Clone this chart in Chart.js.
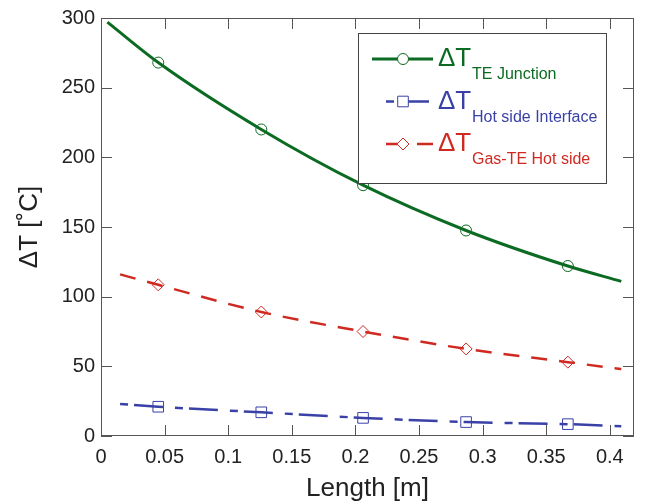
<!DOCTYPE html>
<html>
<head>
<meta charset="utf-8">
<script src="https://cdn.jsdelivr.net/npm/chart.js@4/dist/chart.umd.min.js"></script>
<style>
  html, body { margin: 0; padding: 0; background: #fff; }
  #wrap { width: 645px; height: 504px; }
</style>
</head>
<body>
<div id="wrap"><canvas id="chart" width="645" height="504"></canvas></div>
<script>
// values
const junctionLength = [0.005, 0.045, 0.126, 0.206, 0.287, 0.367, 0.409];
const junctionDT = [297, 268, 220, 180, 147.5, 122, 111];
const hotLength = [0.015, 0.045, 0.126, 0.206, 0.287, 0.367, 0.409];
const hotDT = [23, 21, 17, 13, 10, 8.5, 7];
const gasLength = [0.015, 0.045, 0.126, 0.206, 0.287, 0.367, 0.409];
const gasDT = [116, 108.5, 89, 75, 62.5, 53, 48];

const xTicks = [0, 0.05, 0.1, 0.15, 0.2, 0.25, 0.3, 0.35, 0.4];
const xTickLabels = ['0', '0.05', '0.1', '0.15', '0.2', '0.25', '0.3', '0.35', '0.4'];
const yTicks = [0, 50, 100, 150, 200, 250, 300];
const yTickLabels = ['0', '50', '100', '150', '200', '250', '300'];

const GREEN = '#0c6b22';
const BLUE = '#3a41a6';
const RED = '#cf2a22';
const FONT = 'Liberation Sans, Arial, sans-serif';
const BLUE_DASH = [8, 6, 29, 12];
const RED_DASH = [16, 12];

const pts = (xs, ys) => xs.map((x, i) => ({ x, y: ys[i] }));
const markerRadius = (r) => (ctx) => (ctx.dataIndex === 0 || ctx.dataIndex === 6 ? 0 : r);

const legendItems = [
    { color: GREEN, sub: 'TE Junction', dash: [], width: 3, style: 'circle', r: 5.5 },
    { color: BLUE, sub: 'Hot side Interface', dash: BLUE_DASH, width: 2.5, style: 'rect', r: 7.5 },
    { color: RED, sub: 'Gas-TE Hot side', dash: [22, 9, 16, 12], width: 2.5, style: 'rectRot', r: 6 },
];

const frame = {
    id: 'frame',
    afterDraw(chart) {
        const { ctx, chartArea: a, scales } = chart;
        ctx.save();
        ctx.strokeStyle = '#555';
        ctx.lineWidth = 1;
        ctx.strokeRect(a.left + 0.5, a.top + 0.5, a.right - a.left - 1, a.bottom - a.top - 1);
        ctx.beginPath();
        scales.x.ticks.forEach((t) => {
            const px = Math.round(scales.x.getPixelForValue(t.value)) + 0.5;
            ctx.moveTo(px, a.bottom); ctx.lineTo(px, a.bottom - 11);
            ctx.moveTo(px, a.top); ctx.lineTo(px, a.top + 11);
        });
        scales.y.ticks.forEach((t) => {
            const py = Math.round(scales.y.getPixelForValue(t.value)) + 0.5;
            ctx.moveTo(a.left, py); ctx.lineTo(a.left + 11, py);
            ctx.moveTo(a.right, py); ctx.lineTo(a.right - 11, py);
        });
        ctx.stroke();

        // legend box
        const bx = 358, by = 33, bw = 248, bh = 150;
        ctx.fillStyle = '#fff';
        ctx.fillRect(bx, by, bw, bh);
        ctx.strokeStyle = '#444';
        ctx.strokeRect(bx + 0.5, by + 0.5, bw, bh);
        legendItems.forEach((it, i) => {
            const y = 59 + i * 42.5;
            ctx.strokeStyle = it.color;
            ctx.lineWidth = it.width;
            ctx.setLineDash(it.dash);
            ctx.beginPath();
            ctx.moveTo(i === 0 ? 372 : 386, y);
            ctx.lineTo(433, y);
            ctx.stroke();
            ctx.setLineDash([]);
            ctx.lineWidth = 1;
            ctx.fillStyle = '#fff';
            Chart.helpers.drawPoint(ctx, { pointStyle: it.style, radius: it.r, rotation: 0, borderWidth: 1 }, 403, y);
            ctx.fillStyle = it.color;
            ctx.textBaseline = 'alphabetic';
            ctx.textAlign = 'left';
            ctx.font = '26px ' + FONT;
            ctx.fillText('\u0394T', 438, y + 7);
            ctx.font = '16px ' + FONT;
            ctx.fillText(it.sub, 472, y + 20);
        });
        ctx.restore();
    },
};

new Chart(document.getElementById('chart'), {
    type: 'line',
    data: {
        datasets: [
            {
                label: 'TE Junction',
                data: pts(junctionLength, junctionDT),
                borderColor: GREEN,
                borderWidth: 3,
                pointStyle: 'circle',
                pointRadius: markerRadius(5.5),
                pointBorderColor: GREEN,
                pointBorderWidth: 1,
                pointBackgroundColor: 'rgba(0,0,0,0)',
                cubicInterpolationMode: 'monotone',
            },
            {
                label: 'Hot side Interface',
                data: pts(hotLength, hotDT),
                borderColor: BLUE,
                borderWidth: 2.5,
                borderDash: BLUE_DASH,
                pointStyle: 'rect',
                pointRadius: markerRadius(7.5),
                pointBorderColor: BLUE,
                pointBorderWidth: 1,
                pointBackgroundColor: 'rgba(0,0,0,0)',
                cubicInterpolationMode: 'monotone',
            },
            {
                label: 'Gas-TE Hot side',
                data: pts(gasLength, gasDT),
                borderColor: RED,
                borderWidth: 2.5,
                borderDash: RED_DASH,
                pointStyle: 'rectRot',
                pointRadius: markerRadius(6),
                pointBorderColor: RED,
                pointBorderWidth: 1,
                pointBackgroundColor: 'rgba(0,0,0,0)',
                cubicInterpolationMode: 'monotone',
            },
        ],
    },
    options: {
        responsive: false,
        animation: false,
        layout: { padding: { top: 17, right: 11, left: 0, bottom: 0 } },
        plugins: { legend: { display: false }, tooltip: { enabled: false } },
        scales: {
            x: {
                type: 'linear',
                min: 0,
                max: 0.419,
                afterBuildTicks: (s) => { s.ticks = xTicks.map((v) => ({ value: v })); },
                afterFit: (s) => { s.height = 68; },
                grid: { display: false, drawTicks: false },
                border: { display: false },
                ticks: {
                    autoSkip: false,
                    maxRotation: 0,
                    padding: 9,
                    color: '#222',
                    font: { size: 20, family: FONT },
                    callback: (v) => xTickLabels[xTicks.indexOf(v)] ?? '',
                },
                title: { display: true, text: 'Length [m]', color: '#222', font: { size: 26, family: FONT }, padding: { top: 4, bottom: 0 } },
            },
            y: {
                min: 0,
                max: 300,
                afterBuildTicks: (s) => { s.ticks = yTicks.map((v) => ({ value: v })); },
                afterFit: (s) => { s.width = 101; },
                grid: { display: false, drawTicks: false },
                border: { display: false },
                ticks: {
                    padding: 6,
                    color: '#222',
                    font: { size: 20, family: FONT },
                    callback: (v) => yTickLabels[yTicks.indexOf(v)] ?? '',
                },
                title: { display: true, text: '\u0394T [\u02DAC]', color: '#222', font: { size: 26, family: FONT }, padding: { top: 14, bottom: 4 } },
            },
        },
    },
    plugins: [frame],
});
</script>
</body>
</html>
